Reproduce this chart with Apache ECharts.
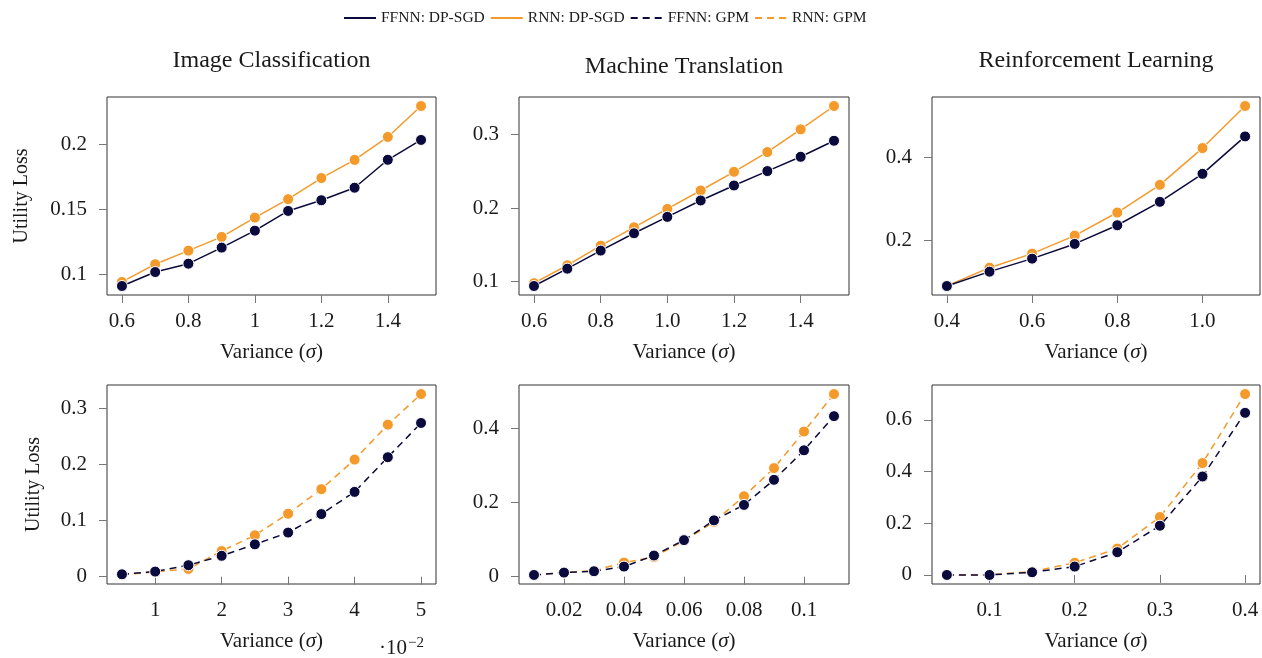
<!DOCTYPE html>
<html>
<head>
<meta charset="utf-8">
<script src="https://cdn.jsdelivr.net/npm/echarts@6/dist/echarts.min.js"></script>
<style>
  html, body { margin: 0; padding: 0; background: #fff; }
  #chart { width: 1262px; height: 658px; }
</style>
</head>
<body>
<div id="chart"></div>
<script>
// ---- data: utility loss vs. noise variance ----
const legendNames = ['FFNN: DP-SGD', 'RNN: DP-SGD', 'FFNN: GPM', 'RNN: GPM'];
const panelTitles = ['Image Classification', 'Machine Translation', 'Reinforcement Learning'];

// DP-SGD (top row)
const sigmaImageDP = [0.6, 0.7, 0.8, 0.9, 1.0, 1.1, 1.2, 1.3, 1.4, 1.5];
const ffnnImageDP = [0.0913, 0.102, 0.1084, 0.1207, 0.1337, 0.1488, 0.157, 0.1666, 0.188, 0.2032];
const rnnImageDP  = [0.0944, 0.108, 0.1184, 0.1289, 0.1437, 0.1578, 0.174, 0.1879, 0.2055, 0.2292];

const sigmaTransDP = [0.6, 0.7, 0.8, 0.9, 1.0, 1.1, 1.2, 1.3, 1.4, 1.5];
const ffnnTransDP = [0.0941, 0.1177, 0.1423, 0.1659, 0.1882, 0.2105, 0.2309, 0.2505, 0.27, 0.2918];
const rnnTransDP  = [0.098, 0.1223, 0.149, 0.174, 0.199, 0.2241, 0.2495, 0.2764, 0.3073, 0.3391];

const sigmaRLDP = [0.4, 0.5, 0.6, 0.7, 0.8, 0.9, 1.0, 1.1];
const ffnnRLDP = [0.09, 0.1245, 0.1558, 0.1912, 0.2361, 0.2924, 0.3598, 0.4498];
const rnnRLDP  = [0.09, 0.1341, 0.1679, 0.2112, 0.2667, 0.3333, 0.4217, 0.5229];

// GPM (bottom row)
const sigmaImageGPM = [0.005, 0.01, 0.015, 0.02, 0.025, 0.03, 0.035, 0.04, 0.045, 0.05];
const ffnnImageGPM = [0.0042, 0.009, 0.0204, 0.0372, 0.0576, 0.0786, 0.1116, 0.1512, 0.213, 0.2741];
const rnnImageGPM  = [0.003, 0.0084, 0.0138, 0.0456, 0.0738, 0.1122, 0.156, 0.2088, 0.2711, 0.3257];

const sigmaTransGPM = [0.01, 0.02, 0.03, 0.04, 0.05, 0.06, 0.07, 0.08, 0.09, 0.1, 0.11];
const ffnnTransGPM = [0.0045, 0.0109, 0.0145, 0.0271, 0.057, 0.0986, 0.152, 0.1937, 0.2615, 0.3412, 0.4335];
const rnnTransGPM  = [0.0045, 0.011, 0.016, 0.038, 0.053, 0.097, 0.148, 0.2172, 0.2932, 0.3919, 0.4932];

const sigmaRLGPM = [0.05, 0.1, 0.15, 0.2, 0.25, 0.3, 0.35, 0.4];
const ffnnRLGPM = [0.0, 0.0, 0.0104, 0.0324, 0.0881, 0.1905, 0.381, 0.6273];
const rnnRLGPM  = [0.0, 0.0, 0.013, 0.047, 0.102, 0.2242, 0.433, 0.70];

// tick labels per panel
const xTicks = [
  [0.6, 0.8, 1, 1.2, 1.4],
  [0.6, 0.8, 1.0, 1.2, 1.4],
  [0.4, 0.6, 0.8, 1.0],
  [0.01, 0.02, 0.03, 0.04, 0.05],
  [0.02, 0.04, 0.06, 0.08, 0.1],
  [0.1, 0.2, 0.3, 0.4]
];
const yTicks = [
  [0.1, 0.15, 0.2],
  [0.1, 0.2, 0.3],
  [0.2, 0.4],
  [0, 0.1, 0.2, 0.3],
  [0, 0.2, 0.4],
  [0, 0.2, 0.4, 0.6]
];

// ---- styling ----
const NAVY = '#0b0a3c';
const ORANGE = '#f39a2b';
const FONT = '"Liberation Serif", "DejaVu Serif", serif';
const TEXT = '#1a1a1a';

const panels = [
  { x: sigmaImageDP, ffnn: ffnnImageDP, rnn: rnnImageDP, dashed: false, names: [legendNames[0], legendNames[1]] },
  { x: sigmaTransDP, ffnn: ffnnTransDP, rnn: rnnTransDP, dashed: false, names: [legendNames[0], legendNames[1]] },
  { x: sigmaRLDP, ffnn: ffnnRLDP, rnn: rnnRLDP, dashed: false, names: [legendNames[0], legendNames[1]] },
  { x: sigmaImageGPM, ffnn: ffnnImageGPM, rnn: rnnImageGPM, dashed: true, names: [legendNames[2], legendNames[3]] },
  { x: sigmaTransGPM, ffnn: ffnnTransGPM, rnn: rnnTransGPM, dashed: true, names: [legendNames[2], legendNames[3]] },
  { x: sigmaRLGPM, ffnn: ffnnRLGPM, rnn: rnnRLGPM, dashed: true, names: [legendNames[2], legendNames[3]] }
];

const gridBoxes = [
  { left: 107, top: 97, width: 329, height: 198 },
  { left: 519, top: 97, width: 330, height: 198 },
  { left: 932, top: 97, width: 328, height: 198 },
  { left: 107, top: 385, width: 329, height: 199 },
  { left: 519, top: 385, width: 330, height: 199 },
  { left: 932, top: 385, width: 328, height: 199 }
];

const xFormatters = [
  v => String(Math.round(v * 1000) / 1000),
  v => v.toFixed(1),
  v => v.toFixed(1),
  v => String(Math.round(v * 100)),
  v => String(Math.round(v * 1000) / 1000),
  v => String(Math.round(v * 1000) / 1000)
];
const yFormatter = v => String(Math.round(v * 1000) / 1000);

// pgfplots-style 5% padding around the data extent
function padded(arrs) {
  const all = [].concat(...arrs);
  const lo = Math.min(...all), hi = Math.max(...all);
  const pad = (hi - lo) * 0.05;
  return [lo - pad, hi + pad];
}

const grids = [], xAxes = [], yAxes = [], series = [];

panels.forEach((p, i) => {
  grids.push(Object.assign({
    show: true, borderColor: '#333', borderWidth: 1, backgroundColor: 'transparent'
  }, gridBoxes[i]));

  const [xmin, xmax] = padded([p.x]);
  const [ymin, ymax] = padded([p.ffnn, p.rnn]);

  xAxes.push({
    type: 'value', gridIndex: i, min: xmin, max: xmax,
    axisLine: { show: false },
    splitLine: { show: false },
    axisTick: { show: true, length: 8, lineStyle: { color: '#777', width: 1 }, customValues: xTicks[i] },
    axisLabel: {
      show: true, margin: 16, color: TEXT, fontFamily: FONT, fontSize: 21,
      customValues: xTicks[i], formatter: xFormatters[i], showMinLabel: true, showMaxLabel: true
    },
    name: 'Variance ({i|σ})',
    nameLocation: 'middle', nameGap: 47,
    nameTextStyle: {
      color: TEXT, fontFamily: FONT, fontSize: 21,
      rich: { i: { fontStyle: 'italic', fontFamily: FONT, fontSize: 21, color: TEXT } }
    }
  });

  const yAxis = {
    type: 'value', gridIndex: i, min: ymin, max: ymax,
    axisLine: { show: false },
    splitLine: { show: false },
    axisTick: { show: true, length: 8, lineStyle: { color: '#777', width: 1 }, customValues: yTicks[i] },
    axisLabel: {
      show: true, margin: 20, color: TEXT, fontFamily: FONT, fontSize: 21,
      customValues: yTicks[i], formatter: yFormatter
    }
  };
  if (i === 0 || i === 3) {
    yAxis.name = 'Utility Loss';
    yAxis.nameLocation = 'middle';
    yAxis.nameGap = i === 0 ? 75 : 63;
    yAxis.nameTextStyle = { color: TEXT, fontFamily: FONT, fontSize: 20 };
  }
  yAxes.push(yAxis);

  const lineType = p.dashed ? [7, 5] : 'solid';
  const mk = (name, xs, ys, color, z) => ({
    name, type: 'line', xAxisIndex: i, yAxisIndex: i, z,
    data: xs.map((x, k) => [x, ys[k]]),
    symbol: 'circle', symbolSize: 11,
    itemStyle: { color, borderColor: '#fff', borderWidth: 1 },
    lineStyle: { color, width: 1.5, type: lineType },
    animation: false,
    emphasis: { disabled: true }
  });
  // RNN drawn underneath, FFNN on top
  series.push(mk(p.names[1], p.x, p.rnn, ORANGE, 2));
  series.push(mk(p.names[0], p.x, p.ffnn, NAVY, 3));
});

const titleCenters = [271.5, 684, 1096];
const titleTops = [49, 55, 49];
const titles = panelTitles.map((t, k) => ({
  text: t, left: titleCenters[k], top: titleTops[k], textAlign: 'center', padding: 0,
  textStyle: { color: TEXT, fontFamily: FONT, fontSize: 24, fontWeight: 'normal' }
}));

const chart = echarts.init(document.getElementById('chart'), null, { renderer: 'canvas' });
chart.setOption({
  animation: false,
  backgroundColor: '#fff',
  title: titles,
  legend: {
    data: legendNames,
    top: 10, left: 343, padding: 0,
    itemWidth: 32, itemHeight: 14, itemGap: 5,
    itemStyle: { opacity: 0 },
    selectedMode: false,
    textStyle: { color: TEXT, fontFamily: FONT, fontSize: 15.5, padding: [0, 0, 0, 0] }
  },
  grid: grids,
  xAxis: xAxes,
  yAxis: yAxes,
  series: series,
  graphic: [{
    type: 'text', left: 379, top: 636,
    style: {
      text: '·10{s|−2}',
      fill: TEXT, font: '21px ' + FONT,
      rich: { s: { fontSize: 15, verticalAlign: 'top', fill: TEXT, fontFamily: FONT, padding: [0, 0, 10, 1] } }
    }
  }]
});
</script>
</body>
</html>
